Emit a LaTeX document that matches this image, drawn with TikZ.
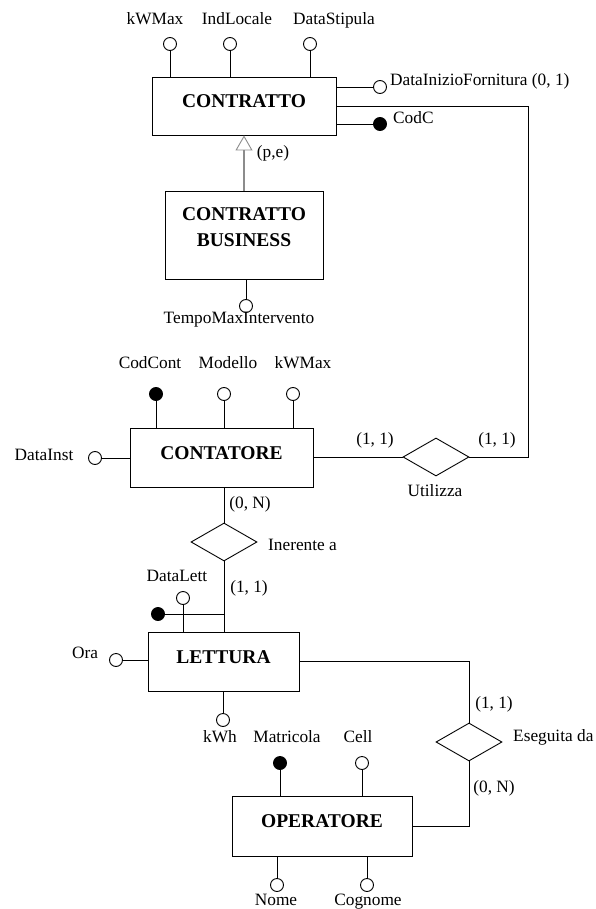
\documentclass[tikz,border=0pt]{standalone}
\usepackage{fontspec}
\setmainfont{Liberation Serif}
\usetikzlibrary{arrows.meta,shapes.geometric}
\begin{document}
\begin{tikzpicture}[x=1pt,y=-1pt,
 entity/.style ={rectangle, draw=black, line width=0.9pt, fill=white, align=center, inner sep=0pt, text depth=9pt, font=\fontsize{19.5}{26}\selectfont\bfseries},
 relation/.style ={diamond, draw=black, line width=0.9pt, fill=white, minimum width=66pt, minimum height=38pt, inner sep=0pt},
 attr/.style ={circle, draw=black, line width=0.9pt, fill=white, minimum size=13pt, inner sep=0pt},
 key/.style ={attr, fill=black},
 lbl/.style ={inner sep=0pt, text height=11.5pt, text depth=0pt, font=\fontsize{17.3}{20}\selectfont},
 line/.style ={draw, line width=0.9pt},
 isa/.style ={draw=black!45, line width=1.2pt, -{Triangle[open, length=15pt, width=17pt, line width=0.9pt]}}]

\useasboundingbox (0,0) rectangle (596,909);

\draw (244,106) node[entity, minimum width=184pt, minimum height=58pt] (Contratto) {CONTRATTO};
\draw (244,235) node[entity, minimum width=158pt, minimum height=88pt, text depth=16pt] (Business) {CONTRATTO\\BUSINESS};
\draw (221.5,457.5) node[entity, minimum width=183pt, minimum height=59pt] (Contatore) {CONTATORE};
\draw (223.5,661.5) node[entity, minimum width=151pt, minimum height=59pt] (Lettura) {LETTURA};
\draw (322,826) node[entity, minimum width=180pt, minimum height=60pt] (Operatore) {OPERATORE};

\draw (436,457) node[relation] (Utilizza) {};
\draw (224,542) node[relation] (Inerente) {};
\draw (469,742) node[relation] (Eseguita) {};

\draw (170,44) node[attr] (aKWMax) {};
\draw (230,44) node[attr] (aIndLocale) {};
\draw (310,44) node[attr] (aDataStipula) {};
\draw (380,87) node[attr] (aDataInizio) {};
\draw (380,124) node[key] (kCodC) {};
\draw (246,306) node[attr] (aTempoMax) {};
\draw (156,394) node[key] (kCodCont) {};
\draw (224,394) node[attr] (aModello) {};
\draw (293,394) node[attr] (aKWMaxC) {};
\draw (95,458) node[attr] (aDataInst) {};
\draw (183,598) node[attr] (aDataLett) {};
\draw (158,614) node[key] (kLettura) {};
\draw (116,660) node[attr] (aOra) {};
\draw (223,720) node[attr] (aKWh) {};
\draw (280,763) node[key] (kMatricola) {};
\draw (362,763) node[attr] (aCell) {};
\draw (277,885) node[attr] (aNome) {};
\draw (367,885) node[attr] (aCognome) {};

\draw (155,19) node[lbl] (lKWMax) {kWMax};
\draw (237,19) node[lbl] (lIndLocale) {IndLocale};
\draw (334,19) node[lbl] (lDataStipula) {DataStipula};
\draw (390,80) node[lbl, anchor=west] (lDataInizio) {DataInizioFornitura (0, 1)};
\draw (393,118) node[lbl, anchor=west] (lCodC) {CodC};
\draw (273,152) node[lbl] (lIsa) {(p,e)};
\draw (239,318) node[lbl] (lTempoMax) {TempoMaxIntervento};
\draw (150,363) node[lbl] (lCodCont) {CodCont};
\draw (228,363) node[lbl] (lModello) {Modello};
\draw (303,363) node[lbl] (lKWMaxC) {kWMax};
\draw (44,455) node[lbl] (lDataInst) {DataInst};
\draw (375,439) node[lbl] (cUtilizza1) {(1, 1)};
\draw (497,439) node[lbl] (cUtilizza2) {(1, 1)};
\draw (435,491) node[lbl] (lUtilizza) {Utilizza};
\draw (250,503) node[lbl] (cInerente1) {(0, N)};
\draw (268,545) node[lbl, anchor=west] (lInerente) {Inerente a};
\draw (177,576) node[lbl] (lDataLett) {DataLett};
\draw (249,587) node[lbl] (cInerente2) {(1, 1)};
\draw (85,653) node[lbl] (lOra) {Ora};
\draw (220,737) node[lbl] (lKWh) {kWh};
\draw (287,737) node[lbl] (lMatricola) {Matricola};
\draw (358,737) node[lbl] (lCell) {Cell};
\draw (494,703) node[lbl] (cEseguita1) {(1, 1)};
\draw (513,736) node[lbl, anchor=west] (lEseguita) {Eseguita da};
\draw (494,787) node[lbl] (cEseguita2) {(0, N)};
\draw (276,900) node[lbl] (lNome) {Nome};
\draw (368,900) node[lbl] (lCognome) {Cognome};

	\draw [line] (aKWMax) -- (aKWMax |- Contratto.north);
	\draw [line] (aIndLocale) -- (aIndLocale |- Contratto.north);
	\draw [line] (aDataStipula) -- (aDataStipula |- Contratto.north);
	\draw [line] (Contratto.east |- aDataInizio) -- (aDataInizio);
	\draw [line] (Contratto.east |- kCodC) -- (kCodC);
	\draw [line] (Contratto.east) -- ++(192,0) |- (Utilizza.east);
	\draw [isa] (Business) -- (Contratto);
	\draw [line] (Business.south -| aTempoMax) -- (aTempoMax);

	\draw [line] (kCodCont) -- (kCodCont |- Contatore.north);
	\draw [line] (aModello) -- (aModello |- Contatore.north);
	\draw [line] (aKWMaxC) -- (aKWMaxC |- Contatore.north);
	\draw [line] (aDataInst) -- (aDataInst -| Contatore.west);
	\draw [line] (Contatore.east |- Utilizza) -- (Utilizza);
	\draw [line] (Contatore.south -| Inerente) -- (Inerente);
	\draw [line] (Inerente) -- (Inerente |- Lettura.north);

	\draw [line] (aDataLett) -- (aDataLett |- Lettura.north);
	\draw [line] (kLettura) -- (kLettura -| Inerente);
	\draw [line] (aOra) -- (aOra -| Lettura.west);
	\draw [line] (Lettura.south -| aKWh) -- (aKWh);
	\draw [line] (Lettura.east) -| (Eseguita);
	\draw [line] (Operatore.east) -| (Eseguita);

	\draw [line] (kMatricola) -- (kMatricola |- Operatore.north);
	\draw [line] (aCell) -- (aCell |- Operatore.north);
	\draw [line] (Operatore.south -| aNome) -- (aNome);
	\draw [line] (Operatore.south -| aCognome) -- (aCognome);

\end{tikzpicture}
\end{document}
